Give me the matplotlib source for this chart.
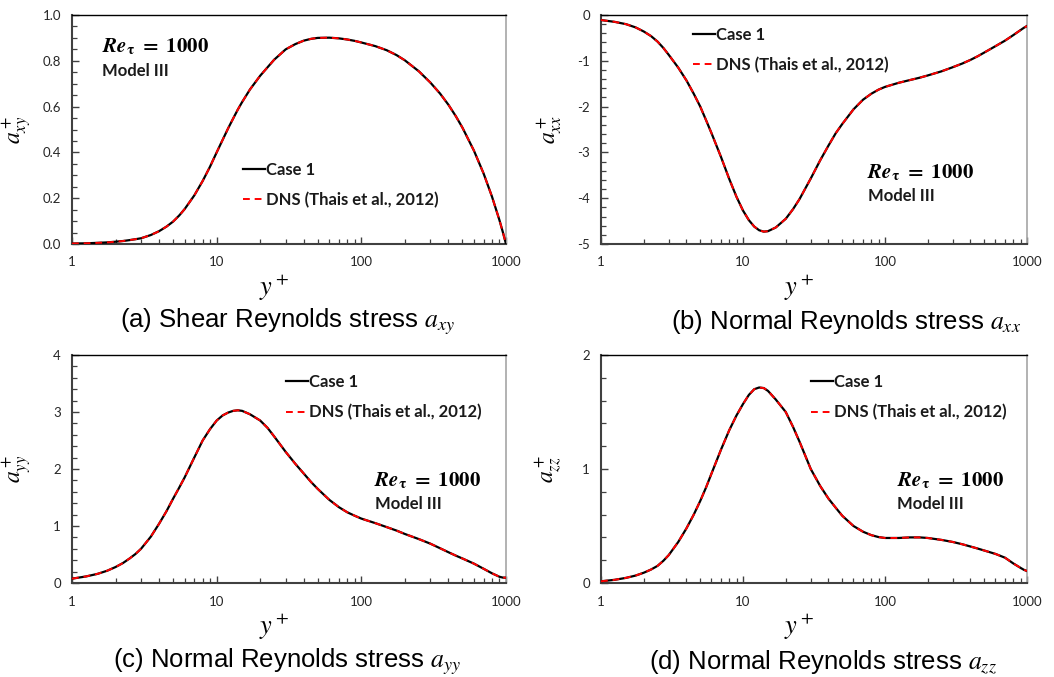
import numpy as np
import matplotlib
matplotlib.use('Agg')
import matplotlib.pyplot as plt
from matplotlib.ticker import FixedLocator, MultipleLocator, FuncFormatter, LogLocator, NullFormatter

plt.rcParams['mathtext.fontset'] = 'stix'
plt.rcParams['axes.unicode_minus'] = False

# Anisotropy profiles at Re_tau = 1000, wall-normal positions y+
yp = [1, 1.25, 1.5, 1.75, 2, 2.25, 2.5, 2.75, 3, 3.5, 4, 4.5, 5, 5.5, 6, 7, 8, 9,
      10, 11, 12, 13, 14, 15, 17, 20, 22.5, 25, 30, 35, 40, 45, 50, 60, 70, 80, 90,
      100, 125, 150, 175, 200, 250, 300, 350, 400, 450, 500, 600, 700, 800, 900, 950, 1000]

axy = [0.002, 0.003, 0.005, 0.007, 0.010, 0.013, 0.017, 0.021, 0.025, 0.039, 0.056,
       0.076, 0.098, 0.124, 0.152, 0.212, 0.275, 0.338, 0.40, 0.455, 0.505, 0.548,
       0.587, 0.62, 0.675, 0.735, 0.772, 0.805, 0.85, 0.873, 0.888, 0.896, 0.9, 0.901,
       0.898, 0.893, 0.887, 0.88, 0.864, 0.846, 0.825, 0.802, 0.754, 0.705, 0.657,
       0.608, 0.558, 0.508, 0.408, 0.308, 0.207, 0.105, 0.053, 0.0]

axx = [-0.11, -0.15, -0.2, -0.27, -0.36, -0.46, -0.58, -0.72, -0.87, -1.15, -1.43,
       -1.72, -2.0, -2.3, -2.58, -3.1, -3.58, -3.97, -4.27, -4.48, -4.62, -4.70, -4.73,
       -4.72, -4.64, -4.45, -4.24, -4.02, -3.57, -3.17, -2.85, -2.58, -2.38, -2.06,
       -1.85, -1.72, -1.63, -1.57, -1.48, -1.42, -1.37, -1.32, -1.23, -1.14, -1.06,
       -0.98, -0.9, -0.82, -0.68, -0.56, -0.44, -0.33, -0.28, -0.24]

ayy = [0.076, 0.115, 0.16, 0.215, 0.28, 0.35, 0.43, 0.51, 0.6, 0.81, 1.04, 1.26, 1.48,
       1.67, 1.85, 2.2, 2.5, 2.7, 2.85, 2.94, 2.99, 3.02, 3.03, 3.02, 2.96, 2.85, 2.72,
       2.57, 2.3, 2.09, 1.92, 1.77, 1.65, 1.46, 1.33, 1.24, 1.18, 1.13, 1.05, 0.98,
       0.92, 0.86, 0.77, 0.69, 0.61, 0.54, 0.48, 0.43, 0.34, 0.25, 0.17, 0.11, 0.095,
       0.093]

azz = [0.015, 0.028, 0.045, 0.065, 0.09, 0.118, 0.15, 0.195, 0.245, 0.36, 0.48, 0.6,
       0.72, 0.84, 0.96, 1.17, 1.34, 1.47, 1.57, 1.65, 1.70, 1.715, 1.71, 1.685, 1.61,
       1.50, 1.37, 1.24, 1.0, 0.85, 0.74, 0.66, 0.59, 0.5, 0.45, 0.42, 0.403, 0.395,
       0.395, 0.4, 0.4, 0.395, 0.378, 0.36, 0.34, 0.32, 0.302, 0.285, 0.255, 0.222,
       0.172, 0.133, 0.116, 0.105]

# DNS reference (Thais et al., 2012) lies on top of the Case 1 curves
dns_axy, dns_axx, dns_ayy, dns_azz = axy, axx, ayy, azz

fig = plt.figure(figsize=(10.54, 6.77), dpi=100)
W, H = 1054.0, 677.0


def make_ax(left, top, width, height):
    return fig.add_axes([left / W, 1 - (top + height) / H, width / W, height / H])


ax_a = make_ax(72, 15, 434, 229)
ax_b = make_ax(601, 15, 426, 229)
ax_c = make_ax(72, 355, 434, 228)
ax_d = make_ax(601, 355, 426, 228)

bold_font = {'family': 'Lato', 'size': 12, 'weight': 'bold'}


def fmt_plain(decimals):
    def f(v, pos):
        s = ('{:.%df}' % decimals).format(v)
        if s.startswith('-0') and float(s) == 0:
            s = s[1:]
        return s
    return FuncFormatter(f)


def style(ax, x, y, dns, ylim, major, minor, decimals, ylabel, leg_xy, ann_xy):
    ax.semilogx(x, y, color='black', lw=1.6, label='Case 1', zorder=3)
    ax.semilogx(x, dns, color='red', lw=1.4, ls=(0, (3.5, 2.5)),
                label='DNS (Thais et al., 2012)', zorder=4)
    ax.set_xlim(1, 1000)
    ax.set_ylim(*ylim)
    ax.xaxis.set_major_locator(FixedLocator([1, 10, 100, 1000]))
    ax.xaxis.set_major_formatter(FuncFormatter(lambda v, p: '%d' % round(v)))
    ax.xaxis.set_minor_locator(LogLocator(base=10, subs=np.arange(2, 10)))
    ax.xaxis.set_minor_formatter(NullFormatter())
    ax.yaxis.set_major_locator(MultipleLocator(major))
    ax.yaxis.set_minor_locator(MultipleLocator(minor))
    ax.yaxis.set_major_formatter(fmt_plain(decimals))
    ax.tick_params(which='major', direction='in', length=5, width=1, color='#404040',
                   labelcolor='#262626', top=False, right=False)
    ax.tick_params(which='minor', direction='in', length=3.5, width=0.9, color='#404040',
                   top=False, right=False)
    ax.tick_params(axis='y', which='major', pad=8)
    ax.tick_params(axis='x', which='major', pad=9)
    for lab in ax.get_xticklabels() + ax.get_yticklabels():
        lab.set_fontfamily('Lato')
        lab.set_fontsize(9.5)
    for s in ('left', 'bottom'):
        ax.spines[s].set_color('#404040')
        ax.spines[s].set_linewidth(1.5)
    ax.spines['top'].set_color('black')
    ax.spines['top'].set_linewidth(1.0)
    ax.spines['right'].set_color('#a6a6a6')
    ax.spines['right'].set_linewidth(1.2)

    ax.set_ylabel(ylabel, fontsize=17, labelpad=0)
    ax.yaxis.set_label_coords(-0.088, 0.5)
    ax.set_xlabel(r'$y^+$', fontsize=19)
    ax.xaxis.set_label_coords(0.465, -0.125)

    leg = ax.legend(loc='center left', bbox_to_anchor=leg_xy, frameon=False,
                    prop=bold_font, handlelength=1.3, handletextpad=0.05,
                    labelspacing=0.85, borderpad=0, borderaxespad=0)
    for t in leg.get_texts():
        t.set_color('#1a1a1a')

    ax.text(ann_xy[0], ann_xy[1], r'$\mathbfit{Re}_{\mathbf{\tau}}\mathbf{\ =\ 1000}$',
            transform=ax.transAxes, fontsize=15, va='center', ha='left')
    ax.text(ann_xy[0] + 0.002, ann_xy[1] - 0.105, 'Model III', transform=ax.transAxes,
            va='center', ha='left', color='#1a1a1a', **bold_font)


style(ax_a, yp, axy, dns_axy, (0, 1.0), 0.2, 0.05, 1, r'$a^+_{xy}$',
      (0.395, 0.258), (0.068, 0.86))
style(ax_b, yp, axx, dns_axx, (-5, 0), 1, 0.2, 0, r'$a^+_{xx}$',
      (0.217, 0.848), (0.624, 0.313))
style(ax_c, yp, ayy, dns_ayy, (0, 4), 1, 0.2, 0, r'$a^+_{yy}$',
      (0.494, 0.815), (0.697, 0.45))
style(ax_d, yp, azz, dns_azz, (0, 2), 1, 0.2, 0, r'$a^+_{zz}$',
      (0.494, 0.815), (0.694, 0.45))

cap = {'fontsize': 18.5, 'family': 'Liberation Sans', 'ha': 'center', 'va': 'center'}
fig.text(288 / W, 1 - 322 / H, r'(a) Shear Reynolds stress $a_{xy}$', **cap)
fig.text(846 / W, 1 - 322 / H, r'(b) Normal Reynolds stress $a_{xx}$', **cap)
fig.text(287 / W, 1 - 662 / H, r'(c) Normal Reynolds stress $a_{yy}$', **cap)
fig.text(823 / W, 1 - 662 / H, r'(d) Normal Reynolds stress $a_{zz}$', **cap)

fig.savefig('out.png', dpi=100)
